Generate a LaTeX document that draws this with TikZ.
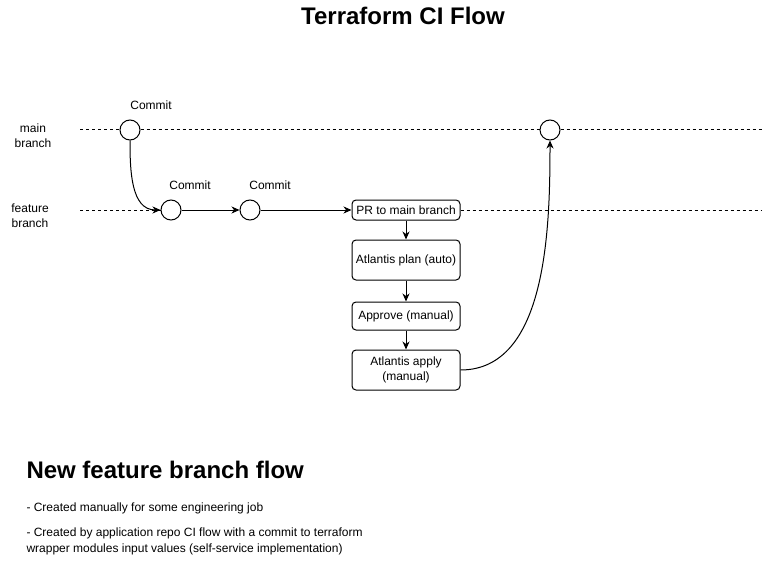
\documentclass[tikz,border=0pt]{standalone}
\usepackage{fontspec}
\setmainfont{Liberation Sans}
\usetikzlibrary{positioning,arrows.meta}
\tikzset{
  commit/.style={circle, draw, fill=white, minimum size=20pt, inner sep=0pt},
  stepbox/.style={draw, rounded corners=4pt, fill=white, minimum width=108pt, align=center, font=\fontsize{12}{15}\selectfont},
  lbl/.style={font=\fontsize{12}{15}\selectfont, align=center},
  branchline/.style={dash pattern=on 3pt off 3pt},
}
\begin{document}
\begin{tikzpicture}[x=1pt, y=-1pt, >={Stealth[length=8pt, width=7pt, inset=2.5pt]}, line width=1pt]
  \useasboundingbox (0,0) rectangle (762,580);
  % Title
  \node[font=\bfseries\fontsize{24}{28}\selectfont] (title) at (403,16) {Terraform CI Flow};
  % Branch labels
  \node[lbl] (mainlbl) at (33,136) {main\\branch};
  \node[lbl] (featlbl) at (30,216) {feature\\branch};
  \coordinate (mainL) at (80,130);
  \coordinate (mainR) at (762,130);
  \coordinate (featL) at (80,210);
  \coordinate (featR) at (762,210);
  % Commits
  \node[commit] (c1) at (130,130) {};
  \node[commit] (c2) at (171,210) {};
  \node[commit] (c3) at (250,210) {};
  \node[commit] (c4) at (550,130) {};
  \node[lbl] (c1lbl) at (151,105) {Commit};
  \node[lbl] (c2lbl) at (190,185) {Commit};
  \node[lbl] (c3lbl) at (270,185) {Commit};
  % PR steps
  \node[stepbox, minimum height=20pt] (pr) at (406,210) {PR to main branch};
  \node[stepbox, minimum height=40pt] (plan) at (406,260) {Atlantis plan (auto)};
  \node[stepbox, minimum height=28pt] (approve) at (406,316) {Approve (manual)};
  \node[stepbox, minimum height=40pt] (apply) at (406,370) {Atlantis apply\\(manual)};
  % Branch lines
  \draw[branchline] (mainL) -- (c1) -- (c4) -- (mainR);
  \draw[branchline] (featL) -- (c2);
  \draw[branchline] (pr) -- (featR);
  % Flow
  \draw[->] (c1.south) to[out=-90, in=180] (c2.west);
  \draw[->] (c2) -- (c3);
  \draw[->] (c3) -- (pr);
  \draw[->] (pr) -- (plan);
  \draw[->] (plan) -- (approve);
  \draw[->] (approve) -- (apply);
  \draw[->] (apply.east) to[out=0, in=-90, looseness=0.9] (c4.south);
  % Notes
  \node[anchor=west, inner sep=0pt, font=\bfseries\fontsize{24}{28}\selectfont] (newflow) at (26,470) {New feature branch flow};
  \node[anchor=west, inner sep=0pt, font=\fontsize{12}{15}\selectfont] (note1) at (26,508) {- Created manually for some engineering job};
  \node[anchor=north west, inner sep=0pt, font=\fontsize{12}{16}\selectfont, align=left] (note2) at (26,527) {- Created by application repo CI flow with a commit to terraform\\wrapper modules input values (self-service implementation)};
\end{tikzpicture}
\end{document}
